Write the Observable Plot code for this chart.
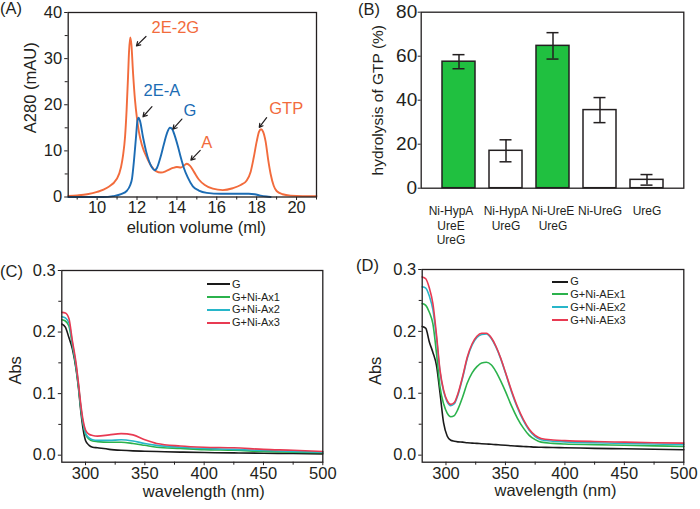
<!DOCTYPE html>
<html><head><meta charset="utf-8">
<script src="https://cdn.jsdelivr.net/npm/d3@7"></script>
<script src="https://cdn.jsdelivr.net/npm/@observablehq/plot@0.6"></script>
<style>
body{margin:0;background:#fff;}
#fig{position:relative;width:700px;height:509px;overflow:hidden;font-family:"Liberation Sans",Arial,Helvetica,sans-serif;color:#231f20;}
#fig svg{overflow:visible;}
.tag{position:absolute;font-size:16.5px;line-height:1;}
.legend{position:absolute;font-size:11px;}
.legend .row{display:flex;align-items:center;height:12.8px;line-height:12.8px;white-space:nowrap;}
.legend .sw{display:inline-block;height:0;border-top:2px solid;margin-right:2px;}
</style></head><body><div id="fig"></div>
<script>
// ---------- Panel A: elution profiles ----------
const aVolOrange = [8.55,9.0,9.5,10.0,10.5,11.0,11.2,11.3,11.4,11.48,11.55,11.6,11.66,11.72,11.8,11.9,12.0,12.1,12.25,12.5,12.75,12.95,13.2,13.5,13.8,14.0,14.2,14.35,14.5,14.65,14.85,15.1,15.4,15.8,16.3,16.8,17.2,17.5,17.7,17.85,18.0,18.12,18.22,18.32,18.45,18.58,18.7,18.85,19.0,19.3,19.7,20.3,21.0];
const aAbsOrange = [0.2,0.35,0.6,1.1,2.0,4.0,6.5,9,13,19,26,31.5,34.6,33,27,21,17,14,11.2,8.5,6.5,5.6,5.3,5.7,6.3,6.5,6.4,6.8,7.2,6.8,5.5,3.8,2.6,1.8,1.5,1.9,2.6,3.6,5.5,8.5,12,14.2,14.7,14.2,12,8,5,2.5,1.3,0.6,0.3,0.2,0.2];
const aVolBlue = [8.55,10.3,10.8,11.2,11.5,11.65,11.75,11.85,11.95,12.02,12.08,12.15,12.3,12.45,12.6,12.75,12.88,13.0,13.17,13.35,13.5,13.65,13.75,13.9,14.05,14.2,14.35,14.55,14.8,15.1,15.5,16.2,17.0,17.6,17.9,18.2,18.5,18.7];
const aAbsBlue = [0,0,0.2,0.6,1.4,2.5,4,8,13,16.5,17.2,16.5,13,10,7.8,6.4,5.8,6.3,8.5,11.5,13.8,15.0,14.8,13.2,11,8.5,6.3,4.2,2.3,1.4,0.9,0.7,0.7,0.7,0.6,0.3,0.1,0];
const aAnnLabels = ["2E-2G","2E-A","G","A","GTP"];
const aAnnSeries = ["orange","blue","blue","orange","orange"];
const aAnnTextX = [13.92,13.25,14.65,15.5,19.48];
const aAnnTextY = [36.8,23.0,18.6,11.8,19.1];
const aArrowX1 = [12.45,12.75,14.25,15.17,18.5];
const aArrowY1 = [34.8,19.6,16.9,10.1,17.2];
const aArrowX2 = [11.97,12.3,13.8,14.7,18.13];
const aArrowY2 = [32.75,17.4,14.7,8.0,15.1];
const aXTicks = [10,12,14,16,18,20];
const aXMinor = [9,11,13,15,17,19,21];
const aYTicks = [0,10,20,30,40];
const aYMinor = [5,15,25,35];

// ---------- Panel B: GTP hydrolysis ----------
const bCategories = ["Ni-HypA\nUreE\nUreG","Ni-HypA\nUreG","Ni-UreE\nUreG","Ni-UreG","UreG"];
const bValues = [57.5,17.0,64.7,35.5,3.8];
const bErrors = [3.2,5.0,6.0,5.7,2.4];
const bGreen = [true,false,true,false,false];
const bYTicks = [0,20,40,60,80];

// ---------- Panel C: UV-vis, G + Ni-A ----------
const cWave = [280,283,286,289,292,294,296,298,300,303,306,310,320,330,340,350,360,380,400,425,450,475,500];
const cG    = [0.213,0.208,0.191,0.172,0.140,0.110,0.072,0.042,0.024,0.016,0.013,0.012,0.0095,0.008,0.007,0.0065,0.006,0.005,0.0043,0.0037,0.0032,0.0027,0.0022];
const cAx1  = [0.220,0.218,0.210,0.178,0.143,0.113,0.077,0.050,0.034,0.026,0.023,0.022,0.021,0.021,0.019,0.016,0.013,0.011,0.009,0.008,0.006,0.005,0.004];
const cAx2  = [0.225,0.223,0.215,0.181,0.146,0.115,0.079,0.052,0.036,0.028,0.025,0.024,0.024,0.025,0.023,0.019,0.016,0.013,0.011,0.0095,0.0075,0.006,0.005];
const cAx3  = [0.232,0.231,0.222,0.185,0.150,0.118,0.083,0.056,0.041,0.034,0.032,0.031,0.033,0.035,0.033,0.025,0.019,0.015,0.013,0.012,0.0095,0.008,0.006];
const cNames = ["G","G+Ni-Ax1","G+Ni-Ax2","G+Ni-Ax3"];

// ---------- Panel D: UV-vis, G + Ni-AE ----------
const dWave = [280,283,286,289,292,295,298,301,304,307,310,314,318,322,326,330,334,338,342,346,350,355,360,365,370,375,380,390,400,425,450,475,500];
const dG     = [0.208,0.205,0.183,0.166,0.145,0.100,0.052,0.031,0.024,0.0225,0.0215,0.021,0.020,0.0195,0.019,0.0185,0.018,0.0175,0.017,0.0165,0.016,0.0152,0.0145,0.014,0.0135,0.013,0.0128,0.0123,0.012,0.011,0.0103,0.0095,0.0088];
const dAEx1  = [0.245,0.242,0.231,0.212,0.165,0.110,0.083,0.068,0.062,0.064,0.074,0.094,0.117,0.133,0.143,0.149,0.150,0.146,0.135,0.120,0.103,0.080,0.060,0.044,0.032,0.025,0.021,0.019,0.018,0.017,0.016,0.015,0.014];
const dAEx2  = [0.272,0.270,0.257,0.235,0.190,0.134,0.103,0.086,0.080,0.083,0.097,0.125,0.157,0.178,0.190,0.195,0.196,0.189,0.175,0.156,0.133,0.103,0.077,0.056,0.040,0.030,0.025,0.0225,0.0215,0.020,0.019,0.018,0.017];
const dAEx3  = [0.288,0.285,0.270,0.245,0.195,0.137,0.105,0.088,0.082,0.085,0.099,0.127,0.159,0.180,0.192,0.197,0.197,0.190,0.176,0.157,0.134,0.105,0.079,0.058,0.042,0.032,0.027,0.0245,0.0235,0.022,0.021,0.020,0.0195];
const dNames = ["G","G+Ni-AEx1","G+Ni-AEx2","G+Ni-AEx3"];

const uvXTicks = [300,350,400,450,500];
const uvXMinor = [325,375,425,475];
const uvYTicks = [0,0.1,0.2,0.3];
const uvYMinor = [0.05,0.15,0.25];

// ---------- styling ----------
const FONT = '"Liberation Sans", Arial, Helvetica, sans-serif';
const INK = "#231f20";
const ORANGE = "#f26b3c", BLUE = "#1c6cb4";
const BAR_GREEN = "#20c040";
const UV_COLORS = ["#1a1a1a","#2bb24c","#27b6c9","#e83a52"];
const seriesColor = {orange: ORANGE, blue: BLUE};
const fig = document.getElementById("fig");
function place(node, left, top){ node.style.position="absolute"; node.style.left=left+"px"; node.style.top=top+"px"; fig.append(node); }
function tag(text, left, top){ const d=document.createElement("div"); d.className="tag"; d.textContent=text; d.style.left=left+"px"; d.style.top=top+"px"; fig.append(d); }
function legend(names, left, top, swatch){
  const L=document.createElement("div"); L.className="legend"; L.style.left=left+"px"; L.style.top=top+"px";
  names.forEach((n,i)=>{ const r=document.createElement("div"); r.className="row";
    const s=document.createElement("span"); s.className="sw"; s.style.width=swatch+"px"; s.style.borderTopColor=UV_COLORS[i];
    r.append(s, document.createTextNode(n)); L.append(r); });
  fig.append(L);
}
const baseStyle = {fontFamily: FONT, fontSize: "16.5px", color: INK, background: "transparent", overflow: "visible"};
// axis titles drawn as text marks anchored to the frame
function yTitle(label, offset, shift, size = 16.5){ return Plot.text([label], {frameAnchor: "left", rotate: -90, textAnchor: "middle", lineAnchor: "top", dx: -offset, dy: shift, fontSize: size, fill: INK}); }
function xTitle(label, offset, shift){ return Plot.text([label], {frameAnchor: "bottom", textAnchor: "middle", lineAnchor: "bottom", dy: offset, dx: shift, fontSize: 16.5, fill: INK}); }

// ---------- Panel A ----------
const aOrange = aVolOrange.map((v,i)=>({x:v, y:aAbsOrange[i]}));
const aBlue = aVolBlue.map((v,i)=>({x:v, y:aAbsBlue[i]}));
const aAnn = aAnnLabels.map((t,i)=>({t, c: seriesColor[aAnnSeries[i]], tx:aAnnTextX[i], ty:aAnnTextY[i], x1:aArrowX1[i], y1:aArrowY1[i], x2:aArrowX2[i], y2:aArrowY2[i]}));
const plotA = Plot.plot({
  width: 350, height: 250,
  marginLeft: 67.7, marginRight: 34, marginTop: 12, marginBottom: 53.5,
  style: baseStyle,
  x: {domain: [8.55, 21]},
  y: {domain: [0, 40]},
  color: {type: "identity"},
  marks: [
    Plot.axisY({ticks: aYTicks, tickSize: 3.5, tickPadding: 2.5, label: null}),
    Plot.axisY({ticks: aYMinor, tickSize: 3, tickFormat: () => "", label: null}),
    Plot.axisX({ticks: aXTicks, tickSize: 3.5, tickPadding: 1, label: null}),
    Plot.axisX({ticks: aXMinor, tickSize: 3, tickFormat: () => "", label: null}),
    yTitle("A280 (mAU)", 44, -17),
    xTitle("elution volume (ml)", 35.5, 4),
    Plot.line(aOrange, {x: "x", y: "y", stroke: ORANGE, strokeWidth: 1.9, curve: "monotone-x"}),
    Plot.line(aBlue, {x: "x", y: "y", stroke: BLUE, strokeWidth: 1.9, curve: "monotone-x"}),
    Plot.arrow(aAnn, {x1: "x1", y1: "y1", x2: "x2", y2: "y2", stroke: INK, strokeWidth: 1.2, headLength: 7}),
    Plot.text(aAnn, {x: "tx", y: "ty", text: "t", fill: "c", fontSize: 16.5}),
    Plot.frame({stroke: INK, strokeWidth: 1.3})
  ]
});
place(plotA, 0, 0);

// ---------- Panel B ----------
const bRows = bCategories.map((c,i)=>({c, v:bValues[i], e:bErrors[i], f: bGreen[i] ? BAR_GREEN : "#ffffff", first: i === 0}));
const catText = {x: "c", text: "c", frameAnchor: "bottom", textAnchor: "middle", lineAnchor: "top", dy: 17, fontSize: 12, lineHeight: 1.2, fill: INK};
const plotB = Plot.plot({
  width: 350, height: 250,
  marginLeft: 70.7, marginRight: 16.7, marginTop: 11.7, marginBottom: 62.3,
  style: baseStyle,
  x: {domain: bCategories, paddingInner: 0.3, paddingOuter: 0.42, axis: null},
  y: {domain: [0, 80]},
  color: {type: "identity"},
  marks: [
    Plot.barY(bRows, {x: "c", y: "v", fill: "f", stroke: INK, strokeWidth: 1.5}),
    Plot.ruleX(bRows, {x: "c", y1: d => d.v - d.e, y2: d => d.v + d.e, stroke: INK, strokeWidth: 1.5}),
    Plot.tickY(bRows, {x: "c", y: d => d.v + d.e, stroke: INK, strokeWidth: 1.5, insetLeft: 10.5, insetRight: 10.5}),
    Plot.tickY(bRows, {x: "c", y: d => d.v - d.e, stroke: INK, strokeWidth: 1.5, insetLeft: 10.5, insetRight: 10.5}),
    Plot.axisY({ticks: bYTicks, tickSize: 3, tickPadding: 1, fontSize: 19, label: null}),
    yTitle("hydrolysis of GTP (%)", 49, 0, 15.5),
    Plot.text(bRows.filter(d => d.first), {...catText, dx: -8}),
    Plot.text(bRows.filter(d => !d.first), catText),
    Plot.frame({stroke: INK, strokeWidth: 1.3})
  ]
});
place(plotB, 350, 0);

// ---------- Panels C & D ----------
function uvPlot(wave, series, m, yT, xT){
  const rows = [];
  series.forEach((s,k)=> s.forEach((v,i)=> rows.push({w: wave[i], a: v, k})));
  return Plot.plot({
    width: 350, height: 259,
    marginLeft: m[0], marginRight: m[1], marginTop: m[2], marginBottom: m[3],
    style: baseStyle,
    x: {domain: [280, 500]},
    y: {domain: [-0.0114, 0.3]},
    marks: [
      Plot.axisY({ticks: uvYTicks, tickSize: 3.5, tickPadding: 2.5, tickFormat: d3.format(".1f"), label: null}),
      Plot.axisY({ticks: uvYMinor, tickSize: 3, tickFormat: () => "", label: null}),
      Plot.axisX({ticks: uvXTicks, tickSize: 3.5, tickPadding: 1.5, label: null}),
      Plot.axisX({ticks: uvXMinor, tickSize: 3, tickFormat: () => "", label: null}),
      yTitle("Abs", yT[0], yT[1]),
      xTitle("wavelength (nm)", xT[0], xT[1]),
      ...series.map((s,k)=> Plot.line(rows.filter(r=>r.k===k), {x: "w", y: "a", stroke: UV_COLORS[k], strokeWidth: 1.6, curve: "monotone-x"})),
      Plot.frame({stroke: INK, strokeWidth: 1.3})
    ]
  });
}
const plotC = uvPlot(cWave, [cG, cAx1, cAx2, cAx3], [61.3, 27.7, 20, 47.3], [53, 4], [35, 11.5]);
place(plotC, 0, 250);
const plotD = uvPlot(dWave, [dG, dAEx1, dAEx2, dAEx3], [71.7, 16.7, 19, 47.3], [53.4, 5], [33.5, 2.5]);
place(plotD, 350, 250);

legend(cNames, 206.5, 277.9, 23.5);
legend(dNames, 551.7, 275.3, 16.6);

tag("(A)", 0, 0);
tag("(B)", 358, 1);
tag("(C)", 0, 263);
tag("(D)", 356, 257);
</script></body></html>
